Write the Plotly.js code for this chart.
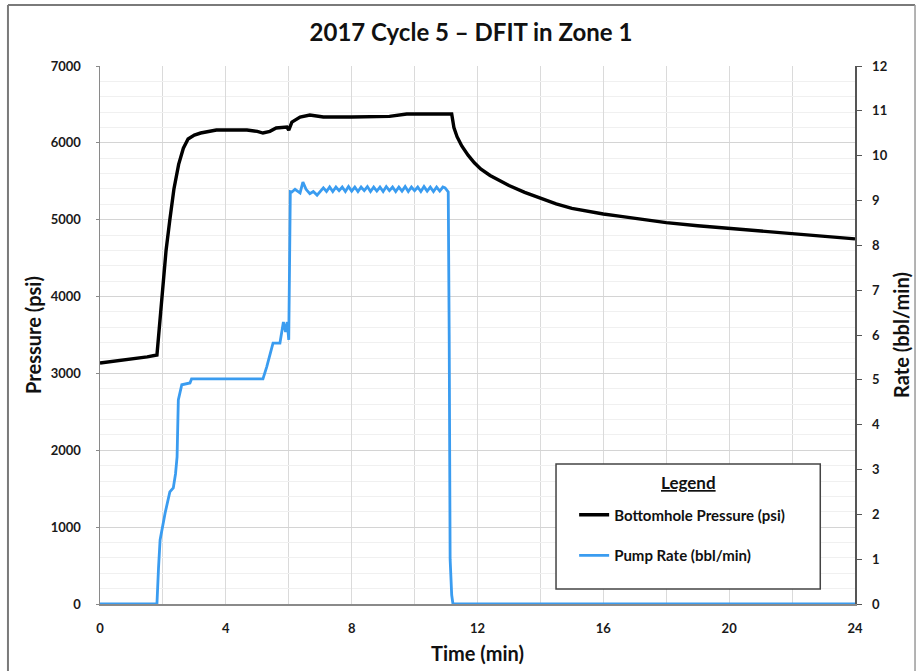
<!DOCTYPE html>
<html>
<head>
<meta charset="utf-8">
<script src="https://cdn.plot.ly/plotly-3.0.1.min.js"></script>
<style>
html,body{margin:0;padding:0;background:#fff;}
#chart{width:919px;height:671px;}
</style>
</head>
<body>
<div id="chart"></div>
<script>
// Bottomhole pressure (psi) vs time (min)
var pressureTime = [0, 0.5, 1.0, 1.5, 1.81, 1.9, 2.0, 2.1, 2.22, 2.35, 2.5, 2.65, 2.8, 3.0, 3.2, 3.5, 3.7, 4.2, 4.67, 5.0, 5.18, 5.4, 5.6, 5.94, 6.0, 6.1, 6.2, 6.36, 6.67, 7.1, 8.0, 8.7, 9.2, 9.75, 10.5, 11.1, 11.18, 11.25, 11.35, 11.5, 11.7, 11.9, 12.1, 12.4, 12.7, 13.0, 13.5, 14.0, 14.5, 15.0, 15.5, 16.0, 16.5, 17.0, 17.5, 18.0, 19.0, 20.0, 21.0, 22.0, 23.0, 24.0];
var pressure = [3136, 3160, 3185, 3215, 3240, 3700, 4180, 4600, 5000, 5400, 5720, 5930, 6050, 6100, 6128, 6150, 6167, 6167, 6167, 6150, 6128, 6150, 6193, 6206, 6167, 6271, 6300, 6336, 6362, 6336, 6336, 6336, 6345, 6375, 6375, 6375, 6375, 6200, 6080, 5960, 5840, 5740, 5660, 5575, 5505, 5445, 5355, 5275, 5205, 5148, 5106, 5075, 5046, 5020, 4990, 4962, 4922, 4886, 4850, 4815, 4783, 4750];

// Pump rate (bbl/min) vs time (min)
var rateTime = [0, 1.81, 1.86, 1.91, 2.07, 2.22, 2.33, 2.4, 2.45, 2.49, 2.6, 2.86, 2.91, 5.18, 5.3, 5.5, 5.72, 5.83, 5.9, 5.95, 6.0, 6.05, 6.1, 6.2, 6.3, 6.36, 6.45, 6.55, 6.67, 6.78, 6.9, 7.0, 7.1, 7.2, 7.3, 7.4, 7.5, 7.6, 7.7, 7.8, 7.9, 8.0, 8.1, 8.2, 8.3, 8.4, 8.5, 8.6, 8.7, 8.8, 8.9, 9.0, 9.1, 9.2, 9.3, 9.4, 9.5, 9.6, 9.7, 9.8, 9.9, 10.0, 10.1, 10.2, 10.3, 10.4, 10.5, 10.6, 10.7, 10.8, 10.9, 10.97, 11.07, 11.1, 11.13, 11.18, 11.22, 24.0];
var rate = [0, 0, 0.8, 1.43, 2.03, 2.5, 2.59, 2.9, 3.28, 4.55, 4.89, 4.93, 5.02, 5.02, 5.29, 5.82, 5.82, 6.29, 6.07, 6.29, 5.89, 9.2, 9.19, 9.25, 9.2, 9.17, 9.41, 9.25, 9.15, 9.2, 9.12, 9.2, 9.28, 9.2, 9.3, 9.2, 9.3, 9.22, 9.3, 9.2, 9.31, 9.21, 9.3, 9.2, 9.3, 9.22, 9.31, 9.2, 9.3, 9.21, 9.3, 9.2, 9.31, 9.22, 9.3, 9.2, 9.3, 9.21, 9.31, 9.2, 9.3, 9.22, 9.3, 9.2, 9.31, 9.21, 9.3, 9.2, 9.3, 9.21, 9.3, 9.28, 9.19, 6.0, 1.0, 0.2, 0, 0];

var chartTitle = '2017 Cycle 5 \u2013 DFIT in Zone 1';
var xTitle = 'Time (min)';
var yTitle = 'Pressure (psi)';
var y2Title = 'Rate (bbl/min)';
var pressureName = 'Bottomhole Pressure (psi)';
var rateName = 'Pump Rate (bbl/min)';
var legendTitle = 'Legend';

var FONT = 'Lato, "Open Sans", "DejaVu Sans", sans-serif';

var traces = [
  {x: pressureTime, y: pressure, type: 'scatter', mode: 'lines', name: pressureName,
   line: {color: '#000000', width: 3.4}, legendgroup: 'p', yaxis: 'y'},
  {x: rateTime, y: rate, type: 'scatter', mode: 'lines', name: rateName,
   line: {color: '#3a9cf0', width: 2.8}, legendgroup: 'r', yaxis: 'y2'}
];

var tickFont = {family: FONT, size: 13, color: '#1a1a1a', weight: 'bold'};
var axTitleFont = {family: FONT, size: 20, color: '#111', weight: 'bold'};

var layout = {
  width: 919, height: 671,
  margin: {l: 100, r: 64, t: 66, b: 67},
  paper_bgcolor: '#ffffff', plot_bgcolor: '#ffffff',
  showlegend: true,
  title: {text: chartTitle, x: 0.5125, xref: 'container', xanchor: 'center',
          y: 0.952, yref: 'container', yanchor: 'middle',
          font: {family: FONT, size: 24, color: '#111', weight: 'bold'}},
  xaxis: {range: [0, 24], dtick: 4, tick0: 0, showgrid: true, gridcolor: '#dadada', gridwidth: 1,
          minor: {dtick: 2, showgrid: true, gridcolor: '#dadada', gridwidth: 1},
          showline: true, linecolor: '#8a8a8a', linewidth: 1.5, zeroline: false,
          ticks: '', tickfont: tickFont, ticklabelstandoff: 12,
          title: {text: xTitle, font: axTitleFont, standoff: 12}},
  yaxis: {range: [0, 7000], dtick: 1000, tick0: 0, showgrid: true, gridcolor: '#d4d4d4', gridwidth: 1,
          minor: {dtick: 200, showgrid: true, gridcolor: '#f0f0f0', gridwidth: 1},
          showline: true, linecolor: '#8a8a8a', linewidth: 1.5, zeroline: false,
          ticks: 'outside', ticklen: 3, tickcolor: '#8a8a8a', tickfont: tickFont, ticklabelstandoff: 12,
          title: {text: yTitle, font: axTitleFont, standoff: 3}},
  yaxis2: {range: [0, 12], dtick: 1, tick0: 0, overlaying: 'y', side: 'right', showgrid: false,
           showline: true, linecolor: '#555555', linewidth: 1.5, zeroline: false,
           ticks: 'outside', ticklen: 5, tickcolor: '#555555', tickfont: tickFont, ticklabelstandoff: 8,
           title: {text: y2Title, font: axTitleFont, standoff: 8}},
  legend: {x: 0.628, y: 0.196, xanchor: 'left', yanchor: 'top',
           bgcolor: 'rgba(0,0,0,0)', borderwidth: 0,
           traceorder: 'grouped', tracegroupgap: 18,
           font: {family: FONT, size: 15, color: '#111', weight: 'bold'}},
  annotations: [
    {text: '<u>' + legendTitle + '</u>', xref: 'paper', yref: 'paper', x: 0.779, y: 0.225,
     xanchor: 'center', yanchor: 'middle', showarrow: false,
     font: {family: FONT, size: 17, color: '#111', weight: 'bold'}}
  ],
  shapes: [
    {type: 'rect', xref: 'paper', yref: 'paper', x0: 0.604, x1: 0.954, y0: 0.028, y1: 0.26,
     line: {color: '#444444', width: 1.5}, fillcolor: '#ffffff', layer: 'above'},
    {type: 'line', xref: 'paper', yref: 'paper', x0: -0.1219, x1: -0.1219, y0: 1.1134, y1: -0.15,
     line: {color: '#7a7a7a', width: 2}},
    {type: 'line', xref: 'paper', yref: 'paper', x0: -0.1219, x1: 1.0795, y0: 1.1134, y1: 1.1134,
     line: {color: '#7a7a7a', width: 2}},
    {type: 'line', xref: 'paper', yref: 'paper', x0: 1.0795, x1: 1.0795, y0: 1.1134, y1: -0.15,
     line: {color: '#9a9a9a', width: 1.5}}
  ]
};

Plotly.newPlot('chart', traces, layout, {displayModeBar: false, staticPlot: true});
</script>
</body>
</html>
